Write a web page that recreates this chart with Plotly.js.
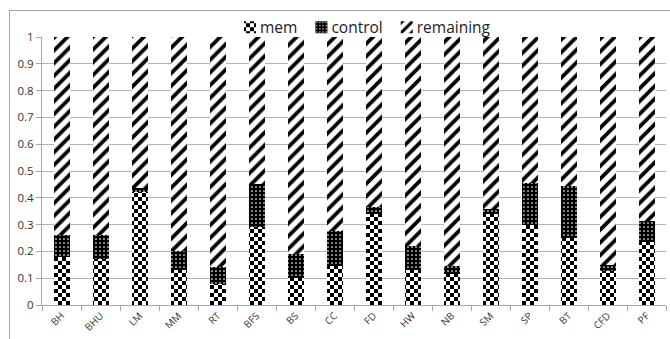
<!DOCTYPE html>
<html>
<head>
<meta charset="utf-8">
<script src="https://cdn.plot.ly/plotly-3.0.1.min.js"></script>
<style>
  html, body { margin: 0; padding: 0; background: #fff; }
  #wrap { position: relative; width: 670px; height: 339px; overflow: hidden; }
  #chart { width: 670px; height: 339px; }
  #frame { position: absolute; left: 9px; top: 10px; width: 800px; height: 500px;
           border: 1px solid #a6a6a6; pointer-events: none; box-sizing: border-box; }
</style>
</head>
<body>
<div id="wrap">
  <div id="chart"></div>
  <div id="frame"></div>
</div>
<script>
const categories = ['BH','BHU','LM','MM','RT','BFS','BS','CC','FD','HW','NB','SM','SP','BT','CFD','PF'];
const memValues = [0.18,0.17,0.42,0.13,0.08,0.29,0.10,0.145,0.34,0.13,0.115,0.34,0.30,0.25,0.127,0.235];
const controlValues = [0.08,0.09,0.015,0.07,0.06,0.16,0.09,0.13,0.025,0.09,0.03,0.02,0.155,0.195,0.023,0.08];
const remainingValues = [0.74,0.74,0.565,0.80,0.86,0.55,0.81,0.725,0.635,0.78,0.855,0.64,0.545,0.555,0.85,0.685];
const seriesNames = ['mem','control','remaining'];
const yTickVals = [0,0.1,0.2,0.3,0.4,0.5,0.6,0.7,0.8,0.9,1];
const yTickText = ['0','0.1','0.2','0.3','0.4','0.5','0.6','0.7','0.8','0.9','1'];

const FONT = 'Open Sans, Lato, sans-serif';
const traces = [
  { type: 'bar', name: seriesNames[0], x: categories, y: memValues,
    marker: { color: '#ffffff', line: { width: 0 } } },
  { type: 'bar', name: seriesNames[1], x: categories, y: controlValues,
    marker: { color: '#000000', line: { width: 0 },
      pattern: { shape: '.', bgcolor: '#000000', fgcolor: '#ffffff', fillmode: 'replace', size: 4, solidity: 0.15 } } },
  { type: 'bar', name: seriesNames[2], x: categories, y: remainingValues,
    marker: { color: '#ffffff', line: { width: 0 },
      pattern: { shape: '/', bgcolor: '#ffffff', fgcolor: '#000000', fillmode: 'replace', size: 9, solidity: 0.42 } } }
];

const layout = {
  width: 670, height: 339,
  margin: { l: 42, r: 4, t: 37, b: 34 },
  paper_bgcolor: '#ffffff', plot_bgcolor: '#ffffff',
  barmode: 'stack', bargap: 0.59,
  font: { family: FONT, color: '#333333', size: 11 },
  showlegend: true,
  legend: { orientation: 'h', x: 0.52, xanchor: 'center', y: 1.035, yanchor: 'middle',
            traceorder: 'normal', font: { family: FONT, size: 15.5, color: '#222222' },
            bgcolor: 'rgba(0,0,0,0)' },
  xaxis: { type: 'category', tickson: 'boundaries', ticks: 'outside', ticklen: 5,
           tickcolor: '#a6a6a6', showline: true, linecolor: '#a6a6a6', linewidth: 1,
           showgrid: false, tickangle: -45, automargin: false,
           tickfont: { family: FONT, size: 10, color: '#333333' } },
  yaxis: { range: [0, 1], tickvals: yTickVals, ticktext: yTickText, ticks: 'outside', ticklen: 5,
           tickcolor: '#a6a6a6', showline: true, linecolor: '#a6a6a6', linewidth: 1,
           showgrid: true, gridcolor: '#b3b3b3', gridwidth: 1, zeroline: false, automargin: false,
           tickfont: { family: FONT, size: 11.5, color: '#333333' } }
};

Plotly.newPlot('chart', traces, layout, { staticPlot: true, displayModeBar: false }).then(function (gd) {
  const svg = gd.querySelector('svg.main-svg');
  const ns = 'http://www.w3.org/2000/svg';
  // checkerboard pattern for the "mem" series
  const defs = svg.querySelector('defs');
  const pat = document.createElementNS(ns, 'pattern');
  pat.setAttribute('id', 'checkerPat');
  pat.setAttribute('patternUnits', 'userSpaceOnUse');
  pat.setAttribute('width', '8');
  pat.setAttribute('height', '8');
  const mk = function (x, y, w, h, c) {
    const r = document.createElementNS(ns, 'rect');
    r.setAttribute('x', x); r.setAttribute('y', y);
    r.setAttribute('width', w); r.setAttribute('height', h);
    r.setAttribute('fill', c);
    pat.appendChild(r);
  };
  mk(0, 0, 8, 8, '#ffffff');
  mk(0, 0, 4, 4, '#000000');
  mk(4, 4, 4, 4, '#000000');
  defs.appendChild(pat);
  gd.querySelectorAll('.barlayer .trace.bars').forEach(function (g) {
    const d = g.__data__;
    if (d && d[0] && d[0].trace && d[0].trace.name === seriesNames[0]) {
      g.querySelectorAll('path').forEach(function (p) { p.style.fill = 'url(#checkerPat)'; });
    }
  });
  // legend: checker symbol + tighter spacing
  const sr = svg.getBoundingClientRect();
  const items = Array.from(gd.querySelectorAll('.legend .traces'));
  let X = 0;
  items.forEach(function (g) {
    const d = g.__data__;
    if (d && d[0] && d[0].trace && d[0].trace.name === seriesNames[0]) {
      g.querySelectorAll('.legendpoints path').forEach(function (p) { p.style.fill = 'url(#checkerPat)'; });
    }
    const txt = g.querySelector('.legendtext');
    txt.setAttribute('x', 30);
    const w = txt.getComputedTextLength();
    const m = (g.getAttribute('transform') || '').match(/translate\(\s*(-?[\d.]+)\s*,\s*(-?[\d.]+)/);
    const y = m ? parseFloat(m[2]) : 0;
    g.__x = X; g.__y = y;
    g.setAttribute('transform', 'translate(' + X + ',' + y + ')');
    X = X + w + 34;
  });
  if (items.length) {
    const p0 = items[0].querySelector('.legendpoints path');
    const r0 = p0.getBoundingClientRect();
    const cx = (r0.left + r0.right) / 2 - sr.left;
    const delta = 250 - cx;
    items.forEach(function (g) {
      g.setAttribute('transform', 'translate(' + (g.__x + delta) + ',' + g.__y + ')');
    });
  }
});
</script>
</body>
</html>
